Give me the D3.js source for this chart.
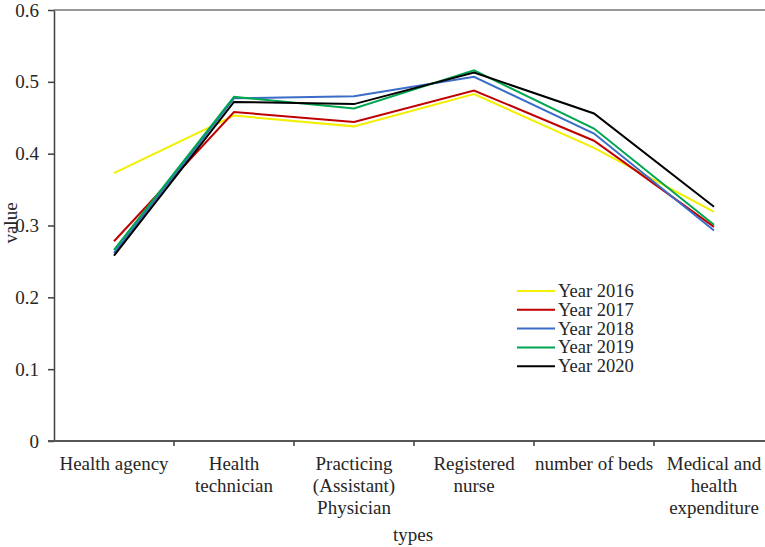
<!DOCTYPE html>
<html>
<head>
<meta charset="utf-8">
<script src="https://cdn.jsdelivr.net/npm/d3@7"></script>
<style>
  body { margin: 0; background: #fff; }
  svg { display: block; }
  svg text { font-family: "Times New Roman", "Liberation Serif", serif !important; fill: #262626; }
</style>
</head>
<body>
<div id="main"></div>
<script>
// categories along the x axis (label lines kept separate for wrapping)
var categories = ["Health agency", "Health technician", "Practicing (Assistant) Physician",
                  "Registered nurse", "number of beds", "Medical and health expenditure"];
var categoryLines = [["Health agency"], ["Health", "technician"], ["Practicing", "(Assistant)", "Physician"],
                     ["Registered", "nurse"], ["number of beds"], ["Medical and", "health", "expenditure"]];

var years = ["Year 2016", "Year 2017", "Year 2018", "Year 2019", "Year 2020"];
var colors = ["#f2ef00", "#c00000", "#3a6cc8", "#00a650", "#000000"];

// values
var v2016 = [0.373, 0.453, 0.438, 0.483, 0.408, 0.319];
var v2017 = [0.278, 0.458, 0.444, 0.488, 0.418, 0.298];
var v2018 = [0.262, 0.477, 0.480, 0.507, 0.428, 0.293];
var v2019 = [0.266, 0.479, 0.463, 0.516, 0.435, 0.301];
var v2020 = [0.258, 0.472, 0.469, 0.513, 0.456, 0.326];
var yTicks = [0, 0.1, 0.2, 0.3, 0.4, 0.5, 0.6];

var series = [v2016, v2017, v2018, v2019, v2020];

var ctx = {w: 765, h: 547, left: 54, top: 10, bottom: 441};
var FONT = "'Times New Roman', 'Liberation Serif', serif";

var createViz = function(){
    var svg = d3.select("#main").append("svg")
                .attr("width", ctx.w)
                .attr("height", ctx.h)
                .attr("font-family", FONT);

    // band scale: one band per category, points drawn at band centres
    ctx.xScale = d3.scaleBand().domain(categories)
                              .range([ctx.left, ctx.left + 6 * 120])
                              .padding(0);
    ctx.yScale = d3.scaleLinear().domain([0, 0.6])
                                 .range([ctx.bottom, ctx.top]);

    var bkg = svg.append("g").attr("id", "bkgG");

    // top border line
    bkg.append("line")
       .attr("x1", ctx.left).attr("x2", ctx.w)
       .attr("y1", ctx.yScale(0.6)).attr("y2", ctx.yScale(0.6))
       .style("stroke", "#333").style("stroke-width", 1.2);

    // y axis
    var yAxis = bkg.append("g")
       .attr("transform", `translate(${ctx.left},0)`)
       .call(d3.axisLeft(ctx.yScale).tickValues(yTicks)
               .tickSize(6).tickSizeOuter(0).tickPadding(9)
               .tickFormat(function(d){ return d === 0 ? "0" : d3.format(".1f")(d); }));
    yAxis.attr("font-family", FONT);
    yAxis.selectAll("path,line").style("stroke", "#404040").style("stroke-width", 1.5);
    yAxis.selectAll("text").style("font-size", "19px").attr("fill", "#333");

    // x axis line + boundary ticks
    bkg.append("line")
       .attr("x1", ctx.left - 6).attr("x2", ctx.w)
       .attr("y1", ctx.yScale(0)).attr("y2", ctx.yScale(0))
       .style("stroke", "#555").style("stroke-width", 2.2);
    bkg.selectAll(".xtick")
       .data(categories.slice(1))
       .enter().append("line")
       .attr("class", "xtick")
       .attr("x1", function(d){ return ctx.xScale(d); })
       .attr("x2", function(d){ return ctx.xScale(d); })
       .attr("y1", ctx.yScale(0))
       .attr("y2", ctx.yScale(0) + 5)
       .style("stroke", "#404040").style("stroke-width", 1.5);

    // category labels
    var lbl = bkg.selectAll(".xlabel")
       .data(categories)
       .enter().append("text")
       .attr("class", "xlabel")
       .attr("text-anchor", "middle")
       .style("font-size", "19px")
       .attr("transform", function(d){
           return `translate(${ctx.xScale(d) + ctx.xScale.bandwidth()/2},${ctx.yScale(0) + 29})`;
       });
    lbl.selectAll("tspan")
       .data(function(d, i){ return categoryLines[i]; })
       .enter().append("tspan")
       .attr("x", 0)
       .attr("dy", function(d, i){ return i === 0 ? 0 : 22; })
       .text(function(d){ return d; });

    // axis titles
    bkg.append("text")
       .attr("x", 413).attr("y", 541)
       .attr("text-anchor", "middle")
       .style("font-size", "19px")
       .text("types");
    bkg.append("text")
       .attr("transform", "translate(17,223) rotate(-90)")
       .attr("text-anchor", "middle")
       .style("font-size", "19px")
       .text("value");

    // lines
    var lineGen = d3.line()
        .x(function(d, i){ return ctx.xScale(categories[i]) + ctx.xScale.bandwidth()/2; })
        .y(function(d){ return ctx.yScale(d); });

    svg.append("g").attr("id", "linesG")
       .selectAll("path")
       .data(series)
       .enter().append("path")
       .attr("d", function(d){ return lineGen(d); })
       .attr("fill", "none")
       .attr("stroke", function(d, i){ return colors[i]; })
       .attr("stroke-width", 2);

    // legend
    var leg = svg.append("g").attr("id", "legendG")
       .selectAll("g")
       .data(years)
       .enter().append("g")
       .attr("transform", function(d, i){ return `translate(517,${291 + i * 18.8})`; });
    leg.append("line")
       .attr("x1", 0).attr("x2", 38)
       .attr("y1", 0).attr("y2", 0)
       .attr("stroke", function(d, i){ return colors[i]; })
       .attr("stroke-width", 2);
    leg.append("text")
       .attr("x", 41).attr("y", 6)
       .style("font-size", "18.5px")
       .text(function(d){ return d; });
};

createViz();
</script>
</body>
</html>
